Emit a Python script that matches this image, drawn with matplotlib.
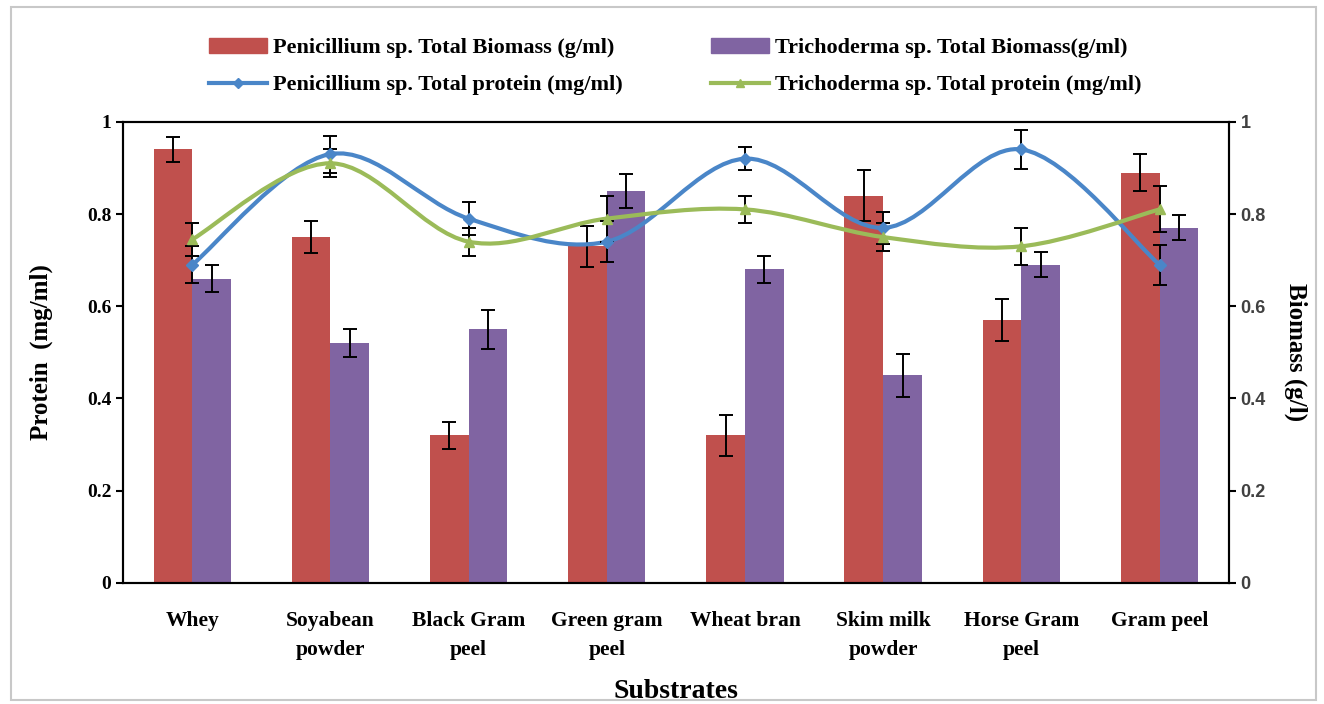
import numpy as np
import matplotlib
matplotlib.use('Agg')
import matplotlib.pyplot as plt
from matplotlib.path import Path
from matplotlib.patches import PathPatch, Rectangle, Patch
from matplotlib.lines import Line2D

plt.rcParams['font.family'] = 'Liberation Serif'
plt.rcParams['font.weight'] = 'bold'
plt.rcParams['axes.labelweight'] = 'bold'

substrates = ['Whey', 'Soyabean\npowder', 'Black Gram\npeel', 'Green gram\npeel',
              'Wheat bran', 'Skim milk\npowder', 'Horse Gram\npeel', 'Gram peel']

# biomass (bars)
pen_biomass = [0.94, 0.75, 0.32, 0.73, 0.32, 0.84, 0.57, 0.89]
pen_biomass_err = [0.028, 0.035, 0.03, 0.045, 0.045, 0.055, 0.045, 0.04]
tri_biomass = [0.66, 0.52, 0.55, 0.85, 0.68, 0.45, 0.69, 0.77]
tri_biomass_err = [0.03, 0.03, 0.042, 0.036, 0.03, 0.047, 0.027, 0.027]

# protein (lines)
pen_protein = [0.69, 0.93, 0.79, 0.74, 0.92, 0.77, 0.94, 0.69]
pen_protein_err = [0.04, 0.04, 0.035, 0.045, 0.025, 0.035, 0.042, 0.043]
tri_protein = [0.745, 0.91, 0.74, 0.79, 0.81, 0.75, 0.73, 0.81]
tri_protein_err = [0.035, 0.03, 0.03, 0.05, 0.03, 0.03, 0.04, 0.05]

red = '#C0504D'
purple = '#8064A2'
blue = '#4A86C8'
green = '#9BBB59'


def smooth_path(xs, ys):
    # Excel-like smoothed line: cubic bezier segments through the points
    pts = np.column_stack([xs, ys])
    n = len(pts)
    verts = [pts[0]]
    codes = [Path.MOVETO]
    for i in range(n - 1):
        p0 = pts[i - 1] if i > 0 else pts[i]
        p1 = pts[i]
        p2 = pts[i + 1]
        p3 = pts[i + 2] if i + 2 < n else pts[i + 1]
        c1 = p1 + (p2 - p0) / 6.0
        c2 = p2 - (p3 - p1) / 6.0
        verts += [c1, c2, p2]
        codes += [Path.CURVE4] * 3
    return Path(verts, codes)


fig = plt.figure(figsize=(13.24, 7.04), dpi=100)
ax = fig.add_axes([0.093, 0.172, 0.835, 0.655])
ax2 = ax.twinx()

x = np.arange(len(substrates))
w = 0.28
ekw = dict(ecolor='black', elinewidth=1.4, capsize=5, capthick=1.4)

ax2.bar(x - w / 2, pen_biomass, w, color=red, yerr=pen_biomass_err, error_kw=ekw, zorder=2)
ax2.bar(x + w / 2, tri_biomass, w, color=purple, yerr=tri_biomass_err, error_kw=ekw, zorder=2)

ax.set_zorder(ax2.get_zorder() + 1)
ax.patch.set_visible(False)

ax.add_patch(PathPatch(smooth_path(x, pen_protein), fill=False, edgecolor=blue, lw=3, zorder=3))
ax.add_patch(PathPatch(smooth_path(x, tri_protein), fill=False, edgecolor=green, lw=3, zorder=3))
ax.errorbar(x, pen_protein, yerr=pen_protein_err, fmt='D', ms=6, color=blue,
            ecolor='black', elinewidth=1.4, capsize=5, capthick=1.4, zorder=4)
ax.errorbar(x, tri_protein, yerr=tri_protein_err, fmt='^', ms=7, color=green,
            ecolor='black', elinewidth=1.4, capsize=5, capthick=1.4, zorder=4)

ticks = [0, 0.2, 0.4, 0.6, 0.8, 1.0]
ticklabels = ['0', '0.2', '0.4', '0.6', '0.8', '1']
for a in (ax, ax2):
    a.set_ylim(0, 1)
    a.set_yticks(ticks)
    a.tick_params(axis='y', direction='out', length=5, width=1.5)
    for s in a.spines.values():
        s.set_linewidth(1.5)
ax.set_yticklabels(ticklabels, fontsize=14)
ax2.set_yticklabels(ticklabels, fontsize=13, family='Liberation Sans', color='#404040')

ax.set_xlim(-0.5, len(substrates) - 0.5)
ax.set_xticks(x)
ax.set_xticklabels(substrates, fontsize=15.5, linespacing=1.6)
ax.tick_params(axis='x', length=0, pad=20)

ax.set_ylabel('Protein  (mg/ml)', fontsize=18, labelpad=24)
ax2.set_ylabel('Biomass (g/l)', fontsize=18, rotation=-90, labelpad=30)
ax.set_xlabel('Substrates', fontsize=20, labelpad=14)

handles = [Patch(color=red), Line2D([], [], color=blue, lw=3, marker='D', ms=5),
           Patch(color=purple), Line2D([], [], color=green, lw=3, marker='^', ms=6)]
labels = ['Penicillium sp. Total Biomass (g/ml)', 'Penicillium sp. Total protein (mg/ml)',
          'Trichoderma sp. Total Biomass(g/ml)', 'Trichoderma sp. Total protein (mg/ml)']
fig.legend(handles, labels, ncol=2, loc='upper center', bbox_to_anchor=(0.51, 0.975),
           frameon=False, fontsize=16, columnspacing=4.0, handlelength=2.6,
           handletextpad=0.25, labelspacing=0.75)

fig.add_artist(Rectangle((0.008, 0.005), 0.986, 0.985, transform=fig.transFigure,
                         fill=False, edgecolor='#c8c8c8', lw=1.5))

fig.savefig('out.png', dpi=100)
